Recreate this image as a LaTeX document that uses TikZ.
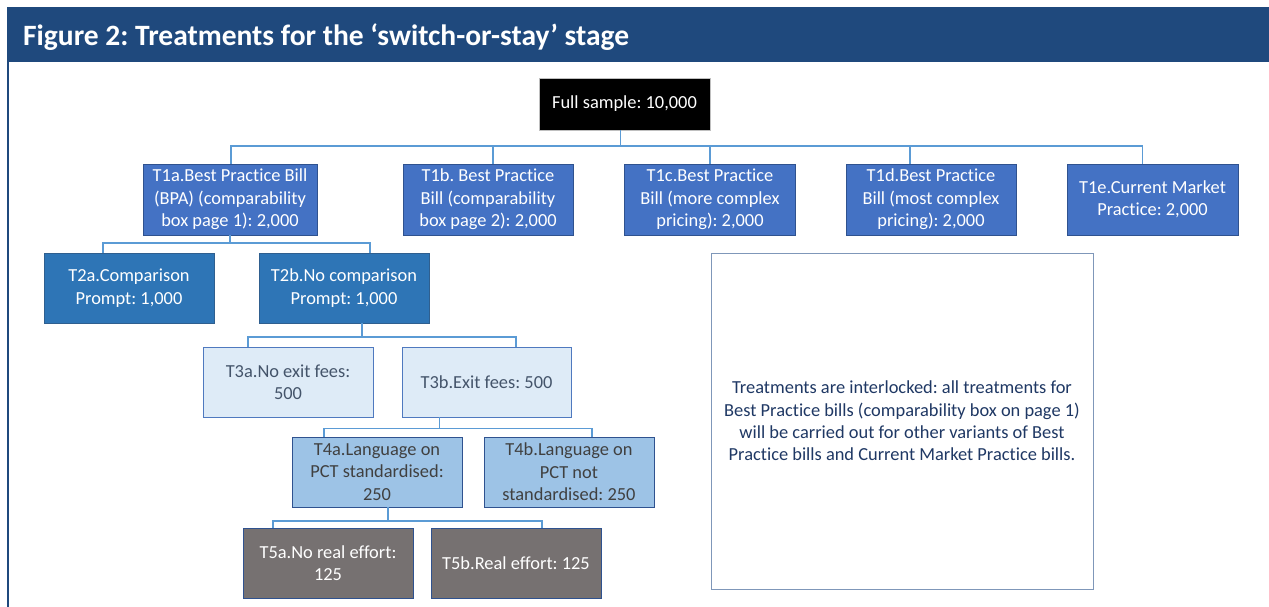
\documentclass[tikz,border=0pt]{standalone}
\usepackage{fontspec}
\setmainfont{Carlito}[Ligatures={NoCommon}]
\usetikzlibrary{calc}
\frenchspacing

\definecolor{hdrblue}{HTML}{1F497D}
\definecolor{linkblue}{HTML}{5B9BD5}
\definecolor{oneFill}{HTML}{4472C4}
\definecolor{oneDraw}{HTML}{2F528F}
\definecolor{twoFill}{HTML}{2E75B6}
\definecolor{twoDraw}{HTML}{2F5F8F}
\definecolor{threeFill}{HTML}{DEEBF7}
\definecolor{threeDraw}{HTML}{4F79BF}
\definecolor{threeText}{HTML}{44546A}
\definecolor{fourFill}{HTML}{9DC3E6}
\definecolor{fourText}{HTML}{404040}
\definecolor{fiveFill}{HTML}{767171}
\definecolor{noteDraw}{HTML}{7F97B9}
\definecolor{noteText}{HTML}{1F3864}

\tikzset{
  box/.style={rectangle, align=center, inner sep=0pt, line width=0.9pt,
    minimum width=170, minimum height=70, font=\fontsize{18.4}{22.5}\selectfont},
  lvlone/.style={box, fill=oneFill, draw=oneDraw, text=white, minimum height=71},
  lvltwo/.style={box, fill=twoFill, draw=twoDraw, text=white},
  lvlthree/.style={box, fill=threeFill, draw=threeDraw, text=threeText},
  lvlfour/.style={box, fill=fourFill, draw=oneDraw, text=fourText},
  lvlfive/.style={box, fill=fiveFill, draw=oneDraw, text=white},
  rootbox/.style={box, fill=black, draw=black!25, text=white,
    minimum width=171, minimum height=52},
  notebox/.style={rectangle, align=center, inner sep=0pt, line width=0.9pt,
    draw=noteDraw, text=noteText, minimum width=382, minimum height=336,
    font=\fontsize{18.4}{22.3}\selectfont},
  conn/.style={draw=linkblue, line width=1.1pt}
}

\begin{document}
\begin{tikzpicture}[x=1pt, y=-1pt]
\useasboundingbox (0,0) rectangle (1269,607);
\fill[white] (0,0) rectangle (1269,607);

% heading band and left rule of the frame
\fill[hdrblue] (7,7) rectangle (1269,62);
\draw[hdrblue, line width=2pt] (8,62) -- (8,607);
\node[anchor=base west, inner sep=0pt, text=white,
      font=\bfseries\fontsize{29.5}{33}\selectfont] (title) at (23,46)
  {Figure 2: Treatments for the ‘switch-or-stay’ stage};

% tree of treatments
\node[rootbox] (fs) at (624.5,104) {Full sample: 10,000};

\node[lvlone, minimum width=174] (t1a) at (230,199.5)
  {T1a.Best Practice Bill\\(BPA) (comparability\\box page 1): 2,000};
\node[lvlone] (t1b) at (488,199.5)
  {T1b. Best Practice\\Bill (comparability\\box page 2): 2,000};
\node[lvlone, minimum width=171] (t1c) at (710,199.5)
  {T1c.Best Practice\\Bill (more complex\\pricing): 2,000};
\node[lvlone] (t1d) at (931,199.5)
  {T1d.Best Practice\\Bill (most complex\\pricing): 2,000};
\node[lvlone, minimum width=171] (t1e) at (1152.5,199.5)
  {T1e.Current Market\\Practice: 2,000};

\node[lvltwo] (t2a) at (129,288) {T2a.Comparison\\Prompt: 1,000};
\node[lvltwo] (t2b) at (344,288) {T2b.No comparison\\Prompt: 1,000};

\node[lvlthree] (t3a) at (288,382) {T3a.No exit fees:\\500};
\node[lvlthree, minimum width=169] (t3b) at (486.5,382) {T3b.Exit fees: 500};

\node[lvlfour] (t4a) at (377,472) {T4a.Language on\\PCT standardised:\\250};
\node[lvlfour] (t4b) at (569,472) {T4b.Language on\\PCT not\\standardised: 250};

\node[lvlfive] (t5a) at (328,563) {T5a.No real effort:\\125};
\node[lvlfive] (t5b) at (516,563) {T5b.Real effort: 125};

\node[notebox] (note) at (902,421)
  {Treatments are interlocked: all treatments for\\
   Best Practice bills (comparability box on page 1)\\
   will be carried out for other variants of Best\\
   Practice bills and Current Market Practice bills.};

% bus heights of the connector levels
\coordinate (b1) at (0,146);
\coordinate (b2) at (0,243);
\coordinate (b3) at (0,337);
\coordinate (b4) at (0,428.5);
\coordinate (b5) at (0,521);

% level 1
\coordinate (p1) at ([xshift=-4pt]fs.south);
\foreach \c/\s in {t1a/1, t1b/5, t1c/0, t1d/-21, t1e/-10}{
  \coordinate (q) at ([xshift=\s pt]\c.north);
  \draw[conn] (p1) -- (p1 |- b1) -| (q);
}
% level 2
\coordinate (p2) at (t1a.south);
\foreach \c/\s in {t2a/-26, t2b/26}{
  \coordinate (q) at ([xshift=\s pt]\c.north);
  \draw[conn] (p2) -- (p2 |- b2) -| (q);
}
% level 3
\coordinate (p3) at ([xshift=18pt]t2b.south);
\foreach \c/\s in {t3a/-40, t3b/29.5}{
  \coordinate (q) at ([xshift=\s pt]\c.north);
  \draw[conn] (p3) -- (p3 |- b3) -| (q);
}
% level 4
\coordinate (p4) at ([xshift=-47pt]t3b.south);
\foreach \c/\s in {t4a/-53, t4b/23}{
  \coordinate (q) at ([xshift=\s pt]\c.north);
  \draw[conn] (p4) -- (p4 |- b4) -| (q);
}
% level 5
\coordinate (p5) at ([xshift=11pt]t4a.south);
\foreach \c/\s in {t5a/-55, t5b/26}{
  \coordinate (q) at ([xshift=\s pt]\c.north);
  \draw[conn] (p5) -- (p5 |- b5) -| (q);
}
\end{tikzpicture}
\end{document}
